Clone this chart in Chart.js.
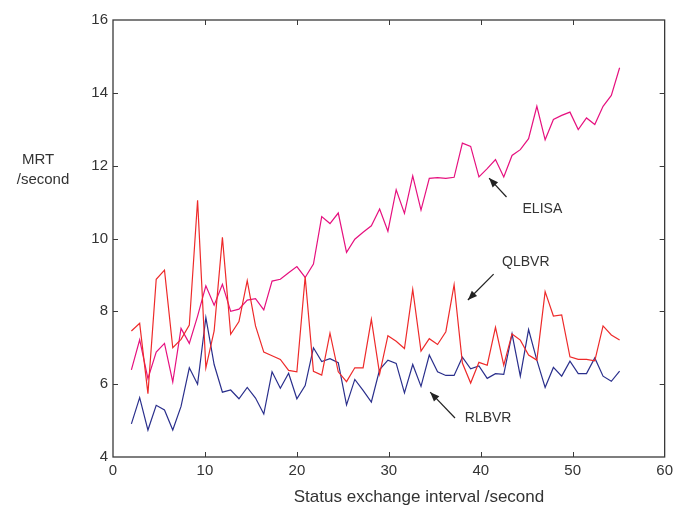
<!DOCTYPE html>
<html>
<head>
<meta charset="UTF-8" />
<title>MRT vs status exchange interval</title>
<script src="https://cdn.jsdelivr.net/npm/chart.js"></script>
<style>
  html, body { margin: 0; padding: 0; background: #fff; }
</style>
</head>
<body>
<canvas id="mrtChart" width="678" height="510"></canvas>
<script>
// --- data ---
const intervals = [2.0, 2.9, 3.8, 4.7, 5.6, 6.5, 7.4, 8.3, 9.2, 10.1,
  11.0, 11.9, 12.8, 13.7, 14.6, 15.5, 16.4, 17.3, 18.2, 19.1,
  20.0, 20.9, 21.8, 22.7, 23.6, 24.5, 25.4, 26.3, 27.2, 28.1,
  29.0, 29.9, 30.8, 31.7, 32.6, 33.5, 34.4, 35.3, 36.2, 37.1,
  38.0, 38.9, 39.8, 40.7, 41.6, 42.5, 43.4, 44.3, 45.2, 46.1,
  47.0, 47.9, 48.8, 49.7, 50.6, 51.5, 52.4, 53.3, 54.2, 55.1];

const elisa = [6.39, 7.22, 6.15, 6.88, 7.12, 6.06, 7.53, 7.12, 7.87, 8.70,
  8.17, 8.74, 8.00, 8.06, 8.31, 8.35, 8.04, 8.83, 8.88, 9.06,
  9.23, 8.93, 9.30, 10.60, 10.41, 10.70, 9.62, 9.98, 10.17, 10.35,
  10.81, 10.20, 11.34, 10.69, 11.72, 10.78, 11.65, 11.67, 11.65, 11.68,
  12.62, 12.53, 11.69, 11.92, 12.17, 11.69, 12.28, 12.44, 12.74, 13.63,
  12.71, 13.27, 13.38, 13.47, 12.99, 13.31, 13.13, 13.63, 13.93, 14.69];

const qlbvr = [7.46, 7.67, 5.74, 8.88, 9.13, 7.00, 7.23, 7.62, 11.05, 6.45,
  7.46, 10.03, 7.37, 7.72, 8.84, 7.60, 6.88, 6.78, 6.68, 6.38,
  6.34, 8.95, 6.35, 6.25, 7.40, 6.34, 6.07, 6.45, 6.45, 7.78,
  6.28, 7.33, 7.18, 6.98, 8.60, 6.91, 7.25, 7.09, 7.44, 8.73,
  6.58, 6.03, 6.60, 6.52, 7.56, 6.52, 7.38, 7.21, 6.80, 6.66,
  8.54, 7.87, 7.90, 6.75, 6.68, 6.68, 6.64, 7.60, 7.35, 7.21];

const rlbvr = [4.91, 5.63, 4.74, 5.42, 5.29, 4.74, 5.39, 6.45, 6.00, 7.83,
  6.54, 5.78, 5.84, 5.60, 5.91, 5.62, 5.18, 6.34, 5.89, 6.30,
  5.60, 5.96, 7.00, 6.62, 6.70, 6.59, 5.43, 6.13, 5.83, 5.51,
  6.40, 6.66, 6.57, 5.76, 6.54, 5.94, 6.80, 6.34, 6.24, 6.24,
  6.74, 6.42, 6.50, 6.16, 6.29, 6.27, 7.38, 6.22, 7.50, 6.66,
  5.91, 6.46, 6.22, 6.63, 6.29, 6.29, 6.72, 6.22, 6.08, 6.36];

const xTicks = [0, 10, 20, 30, 40, 50, 60];
const yTicks = [4, 6, 8, 10, 12, 14, 16];

// text labels with arrows, in data units
const notes = [
  { text: 'ELISA', at: [46.7, 10.8], from: [42.8, 11.14], to: [40.9, 11.66] },
  { text: 'QLBVR', at: [44.9, 9.35], from: [41.4, 9.02], to: [38.6, 8.31] },
  { text: 'RLBVR', at: [40.8, 5.07], from: [37.2, 5.07], to: [34.5, 5.78] }
];

const FONT = '"Liberation Sans", Arial, sans-serif';
const INK = '#333333';

const toPts = vals => vals.map((v, i) => ({ x: intervals[i], y: v }));

// box round the plot, inward ticks, titles and arrows
const frame = {
  id: 'frame',
  afterDraw(chart) {
    const { ctx, chartArea: a, scales: { x, y } } = chart;
    ctx.save();
    ctx.strokeStyle = '#3a3a3a';
    ctx.lineWidth = 1.3;
    ctx.strokeRect(a.left, a.top, a.right - a.left, a.bottom - a.top);
    ctx.beginPath();
    xTicks.slice(1, -1).forEach(v => {
      const px = Math.round(x.getPixelForValue(v)) + 0.5;
      ctx.moveTo(px, a.bottom); ctx.lineTo(px, a.bottom - 5);
      ctx.moveTo(px, a.top); ctx.lineTo(px, a.top + 5);
    });
    yTicks.slice(1, -1).forEach(v => {
      const py = Math.round(y.getPixelForValue(v)) + 0.5;
      ctx.moveTo(a.left, py); ctx.lineTo(a.left + 5, py);
      ctx.moveTo(a.right, py); ctx.lineTo(a.right - 5, py);
    });
    ctx.lineWidth = 1;
    ctx.stroke();

    ctx.fillStyle = INK;
    ctx.textAlign = 'center';
    ctx.textBaseline = 'middle';
    ctx.font = '15px ' + FONT;
    ctx.fillText('MRT', 38, 160);
    ctx.fillText('/second', 43, 180);
    ctx.font = '17px ' + FONT;
    ctx.fillText('Status exchange interval /second', 419, 497);

    ctx.font = '14px ' + FONT;
    notes.forEach(n => {
      ctx.fillStyle = INK;
      ctx.fillText(n.text, x.getPixelForValue(n.at[0]), y.getPixelForValue(n.at[1]));
      const x1 = x.getPixelForValue(n.from[0]), y1 = y.getPixelForValue(n.from[1]);
      const x2 = x.getPixelForValue(n.to[0]), y2 = y.getPixelForValue(n.to[1]);
      ctx.strokeStyle = '#222';
      ctx.lineWidth = 1.2;
      ctx.beginPath(); ctx.moveTo(x1, y1); ctx.lineTo(x2, y2); ctx.stroke();
      const ang = Math.atan2(y2 - y1, x2 - x1), L = 10, W = 0.38;
      ctx.fillStyle = '#222';
      ctx.beginPath();
      ctx.moveTo(x2, y2);
      ctx.lineTo(x2 - L * Math.cos(ang - W), y2 - L * Math.sin(ang - W));
      ctx.lineTo(x2 - L * Math.cos(ang + W), y2 - L * Math.sin(ang + W));
      ctx.closePath(); ctx.fill();
    });
    ctx.restore();
  }
};

new Chart(document.getElementById('mrtChart'), {
  type: 'line',
  data: {
    datasets: [
      { label: 'QLBVR', data: toPts(qlbvr), borderColor: '#ee2a2a' },
      { label: 'ELISA', data: toPts(elisa), borderColor: '#e6117f' },
      { label: 'RLBVR', data: toPts(rlbvr), borderColor: '#2a2f8c' }
    ]
  },
  options: {
    responsive: false,
    animation: false,
    layout: { padding: { top: 20, right: 10, left: 0, bottom: 0 } },
    elements: {
      line: { borderWidth: 1.2, tension: 0, fill: false },
      point: { radius: 0 }
    },
    plugins: { legend: { display: false }, tooltip: { enabled: false } },
    scales: {
      x: {
        type: 'linear', min: 0, max: 60,
        afterBuildTicks: s => { s.ticks = xTicks.map(v => ({ value: v })); },
        afterFit: s => { s.height = 53; },
        grid: { display: false, drawTicks: false },
        border: { display: false },
        ticks: { padding: 5, color: INK, font: { family: FONT, size: 15 } }
      },
      y: {
        min: 4, max: 16,
        afterBuildTicks: s => { s.ticks = yTicks.map(v => ({ value: v })); },
        afterFit: s => { s.width = 113; },
        grid: { display: false, drawTicks: false },
        border: { display: false },
        ticks: { padding: 5, color: INK, font: { family: FONT, size: 15 } }
      }
    }
  },
  plugins: [frame]
});
</script>
</body>
</html>
